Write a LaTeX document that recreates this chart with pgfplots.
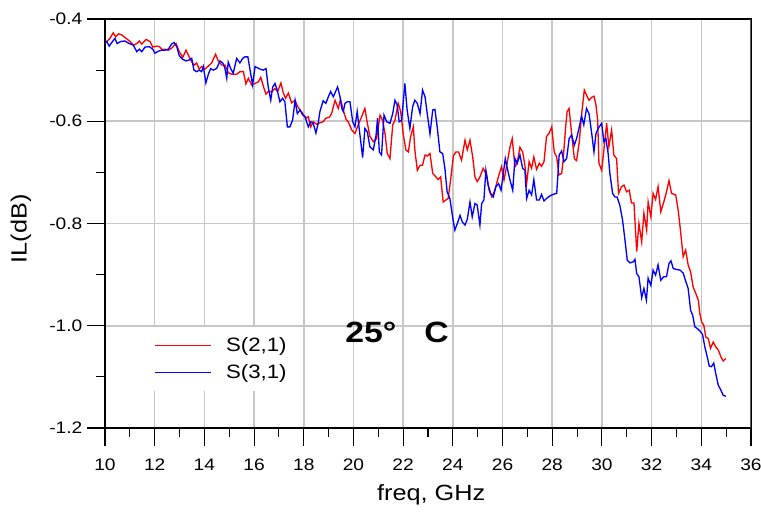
\documentclass[border=0pt]{standalone}
\usepackage{fontspec}
\setmainfont{Liberation Sans}[FakeStretch=1.15]
\usepackage{pgfplots}
\pgfplotsset{compat=1.18}
\begin{document}
\begin{tikzpicture}
\path[use as bounding box] (0,0) rectangle (570.75pt,387.75pt);
\begin{axis}[
 at={(78.75pt,66.75pt)}, anchor=south west,
 scale only axis, width=484.5pt, height=306.75pt,
 xmin=10, xmax=36, ymin=-1.2, ymax=-0.4,
 xtick={10,12,...,36}, ytick={-1.2,-1,-0.8,-0.6,-0.4},
 minor x tick num=1, minor y tick num=1,
 tick pos=left, tick align=outside,
 major tick length=13.5pt, minor tick length=6.75pt,
 every tick/.style={black, line width=0.8pt},
 grid=major, major grid style={color=black!22, line width=1.2pt},
 axis line style={black, line width=1pt},
 /pgf/number format/assume math mode=true,
 ticklabel style={font=\fontsize{12.5}{14}\selectfont},
 yticklabel style={/pgf/number format/.cd, fixed, fixed zerofill, precision=1},
 xticklabel style={yshift=-6pt},
 xlabel={freq, GHz}, ylabel={IL(dB)},
 label style={font=\fontsize{16.5}{19}\selectfont},
 xlabel style={at={(axis description cs:0.505,-0.164)}, anchor=center},
 ylabel style={at={(axis description cs:-0.130,0.487)}, anchor=center},
 legend style={at={(0.0697,0.248)}, anchor=north west, draw=none, fill=white,
   font=\fontsize{14.5}{16}\selectfont, inner xsep=3pt, inner ysep=6pt, row sep=4pt,
   /tikz/every odd column/.append style={column sep=9pt}},
 legend cell align=left,
 legend image post style={xscale=2.45},
]
\addplot[red, line width=1pt] table {
10.00 -0.448
10.07 -0.444
10.20 -0.438
10.33 -0.427
10.43 -0.435
10.54 -0.429
10.67 -0.431
10.80 -0.436
11.01 -0.444
11.14 -0.451
11.28 -0.448
11.38 -0.443
11.48 -0.449
11.65 -0.440
11.81 -0.444
11.92 -0.455
12.08 -0.453
12.19 -0.454
12.28 -0.459
12.41 -0.459
12.55 -0.461
12.68 -0.457
12.86 -0.448
12.99 -0.464
13.13 -0.475
13.26 -0.461
13.39 -0.474
13.49 -0.484
13.59 -0.490
13.69 -0.486
13.79 -0.498
13.89 -0.493
14.02 -0.498
14.16 -0.492
14.29 -0.486
14.45 -0.469
14.56 -0.482
14.70 -0.490
14.83 -0.490
14.96 -0.505
15.10 -0.508
15.30 -0.508
15.43 -0.503
15.57 -0.503
15.67 -0.527
15.77 -0.516
15.90 -0.529
16.04 -0.526
16.17 -0.523
16.27 -0.514
16.37 -0.531
16.48 -0.547
16.57 -0.542
16.71 -0.542
16.84 -0.536
16.95 -0.542
17.08 -0.525
17.18 -0.545
17.27 -0.555
17.38 -0.545
17.51 -0.564
17.65 -0.559
17.74 -0.570
17.85 -0.578
17.96 -0.585
18.09 -0.594
18.18 -0.591
18.28 -0.611
18.38 -0.601
18.52 -0.606
18.65 -0.603
18.78 -0.601
18.89 -0.594
19.03 -0.592
19.12 -0.585
19.26 -0.559
19.39 -0.575
19.48 -0.557
19.59 -0.578
19.70 -0.596
19.79 -0.601
19.93 -0.617
20.06 -0.624
20.19 -0.607
20.33 -0.591
20.46 -0.575
20.56 -0.604
20.66 -0.629
20.80 -0.640
20.93 -0.634
21.07 -0.588
21.17 -0.598
21.27 -0.624
21.36 -0.663
21.47 -0.673
21.58 -0.607
21.67 -0.598
21.80 -0.565
21.90 -0.581
22.00 -0.624
22.11 -0.656
22.21 -0.660
22.30 -0.630
22.41 -0.611
22.47 -0.656
22.57 -0.696
22.68 -0.686
22.78 -0.686
22.88 -0.666
22.97 -0.668
23.08 -0.663
23.19 -0.702
23.32 -0.709
23.41 -0.714
23.51 -0.709
23.61 -0.758
23.72 -0.754
23.81 -0.751
23.91 -0.715
24.02 -0.668
24.12 -0.660
24.23 -0.660
24.35 -0.676
24.49 -0.637
24.58 -0.656
24.69 -0.637
24.80 -0.670
24.89 -0.709
24.98 -0.718
25.09 -0.709
25.22 -0.692
25.36 -0.705
25.46 -0.735
25.57 -0.748
25.69 -0.735
25.83 -0.709
25.96 -0.689
26.06 -0.715
26.16 -0.689
26.30 -0.650
26.39 -0.634
26.50 -0.689
26.59 -0.682
26.70 -0.651
26.81 -0.660
26.90 -0.686
26.97 -0.722
27.07 -0.679
27.17 -0.692
27.26 -0.670
27.37 -0.694
27.48 -0.682
27.57 -0.688
27.67 -0.679
27.77 -0.630
27.88 -0.623
27.98 -0.611
28.08 -0.660
28.18 -0.670
28.27 -0.705
28.38 -0.702
28.44 -0.676
28.54 -0.611
28.60 -0.581
28.68 -0.575
28.78 -0.624
28.89 -0.673
28.98 -0.677
29.09 -0.640
29.18 -0.588
29.29 -0.539
29.38 -0.549
29.48 -0.559
29.59 -0.553
29.68 -0.551
29.76 -0.568
29.83 -0.598
29.88 -0.682
29.99 -0.696
30.08 -0.656
30.19 -0.604
30.28 -0.650
30.39 -0.617
30.48 -0.666
30.59 -0.673
30.67 -0.741
30.79 -0.728
30.89 -0.725
30.99 -0.738
31.10 -0.735
31.19 -0.760
31.29 -0.760
31.40 -0.855
31.49 -0.800
31.60 -0.836
31.69 -0.780
31.80 -0.813
31.86 -0.758
31.97 -0.787
32.06 -0.741
32.16 -0.753
32.26 -0.728
32.37 -0.777
32.49 -0.758
32.60 -0.738
32.70 -0.716
32.80 -0.741
32.97 -0.744
33.07 -0.774
33.16 -0.813
33.27 -0.865
33.37 -0.852
33.47 -0.881
33.57 -0.895
33.67 -0.924
33.78 -0.937
33.88 -0.950
33.94 -0.976
34.01 -0.992
34.10 -0.999
34.18 -1.022
34.28 -1.025
34.37 -1.044
34.48 -1.032
34.58 -1.041
34.69 -1.048
34.79 -1.061
34.88 -1.069
34.99 -1.064
};
\addlegendentry{S(2,1)}
\addplot[blue, line width=1pt] table {
10.00 -0.446
10.07 -0.444
10.17 -0.453
10.27 -0.446
10.40 -0.438
10.49 -0.448
10.63 -0.444
10.80 -0.443
10.98 -0.448
11.14 -0.451
11.28 -0.464
11.38 -0.459
11.48 -0.464
11.61 -0.455
11.78 -0.454
11.92 -0.459
12.01 -0.467
12.14 -0.463
12.28 -0.461
12.41 -0.461
12.55 -0.459
12.68 -0.449
12.78 -0.446
12.89 -0.454
12.99 -0.472
13.13 -0.479
13.26 -0.482
13.39 -0.480
13.49 -0.477
13.58 -0.500
13.69 -0.503
13.79 -0.500
13.89 -0.503
13.96 -0.493
14.06 -0.525
14.16 -0.508
14.25 -0.497
14.36 -0.500
14.49 -0.497
14.63 -0.482
14.74 -0.486
14.83 -0.497
14.90 -0.516
14.96 -0.484
15.06 -0.497
15.16 -0.506
15.30 -0.477
15.43 -0.486
15.54 -0.477
15.63 -0.474
15.75 -0.474
15.94 -0.529
16.04 -0.493
16.24 -0.498
16.37 -0.500
16.48 -0.497
16.57 -0.533
16.67 -0.559
16.75 -0.533
16.84 -0.526
16.93 -0.539
17.04 -0.562
17.15 -0.555
17.24 -0.562
17.34 -0.611
17.44 -0.611
17.55 -0.598
17.65 -0.559
17.74 -0.585
17.85 -0.578
17.96 -0.588
18.05 -0.591
18.18 -0.611
18.28 -0.601
18.38 -0.604
18.49 -0.623
18.58 -0.604
18.65 -0.581
18.78 -0.560
18.89 -0.565
18.99 -0.552
19.08 -0.542
19.19 -0.552
19.28 -0.542
19.36 -0.533
19.46 -0.552
19.53 -0.575
19.59 -0.581
19.66 -0.565
19.75 -0.562
19.86 -0.562
19.97 -0.601
20.06 -0.611
20.15 -0.581
20.23 -0.614
20.37 -0.671
20.46 -0.614
20.56 -0.621
20.66 -0.650
20.80 -0.656
20.91 -0.627
20.97 -0.594
21.04 -0.660
21.13 -0.666
21.23 -0.588
21.34 -0.601
21.47 -0.604
21.58 -0.585
21.67 -0.559
21.76 -0.568
21.84 -0.601
21.94 -0.598
22.07 -0.526
22.16 -0.578
22.27 -0.614
22.38 -0.572
22.47 -0.559
22.57 -0.565
22.68 -0.585
22.78 -0.539
22.88 -0.552
22.97 -0.585
23.08 -0.625
23.19 -0.578
23.28 -0.577
23.37 -0.611
23.48 -0.660
23.59 -0.663
23.68 -0.692
23.77 -0.738
23.88 -0.751
23.99 -0.787
24.08 -0.813
24.18 -0.800
24.29 -0.784
24.38 -0.797
24.49 -0.803
24.58 -0.792
24.69 -0.758
24.78 -0.787
24.89 -0.761
24.98 -0.764
25.09 -0.803
25.16 -0.761
25.25 -0.754
25.33 -0.696
25.42 -0.725
25.52 -0.741
25.63 -0.748
25.73 -0.728
25.84 -0.722
25.94 -0.735
26.03 -0.702
26.11 -0.673
26.21 -0.696
26.30 -0.715
26.41 -0.735
26.50 -0.673
26.59 -0.682
26.70 -0.666
26.81 -0.692
26.90 -0.696
26.97 -0.751
27.07 -0.735
27.17 -0.744
27.26 -0.714
27.37 -0.754
27.48 -0.754
27.57 -0.743
27.67 -0.756
27.77 -0.751
27.91 -0.746
28.04 -0.743
28.18 -0.741
28.28 -0.666
28.38 -0.658
28.47 -0.679
28.58 -0.673
28.68 -0.634
28.78 -0.627
28.89 -0.647
28.98 -0.634
29.09 -0.611
29.18 -0.590
29.27 -0.607
29.38 -0.575
29.48 -0.585
29.59 -0.624
29.68 -0.660
29.76 -0.624
29.85 -0.614
29.99 -0.604
30.08 -0.640
30.16 -0.634
30.25 -0.663
30.32 -0.702
30.43 -0.741
30.52 -0.748
30.61 -0.748
30.72 -0.764
30.83 -0.793
30.92 -0.829
31.02 -0.872
31.13 -0.877
31.26 -0.875
31.33 -0.870
31.40 -0.898
31.49 -0.904
31.60 -0.945
31.69 -0.927
31.79 -0.950
31.86 -0.907
31.97 -0.921
32.06 -0.891
32.16 -0.901
32.26 -0.881
32.37 -0.911
32.49 -0.904
32.60 -0.904
32.70 -0.878
32.78 -0.873
32.87 -0.888
33.01 -0.890
33.14 -0.891
33.27 -0.897
33.38 -0.914
33.47 -0.927
33.57 -0.970
33.65 -0.979
33.74 -1.002
33.83 -1.005
33.94 -1.010
34.05 -1.017
34.14 -1.041
34.24 -1.061
34.32 -1.079
34.41 -1.080
34.50 -1.073
34.58 -1.093
34.68 -1.116
34.78 -1.125
34.88 -1.136
34.99 -1.138
};
\addlegendentry{S(3,1)}
\draw[line width=2pt, black!65] (rel axis cs:1,0) -- (rel axis cs:1,1);
\node[anchor=west, font=\bfseries\fontsize{22}{25}\selectfont, inner sep=0pt] at (axis cs:19.66,-1.0125) {25°\hspace{21pt}C};
\end{axis}
\end{tikzpicture}
\end{document}
